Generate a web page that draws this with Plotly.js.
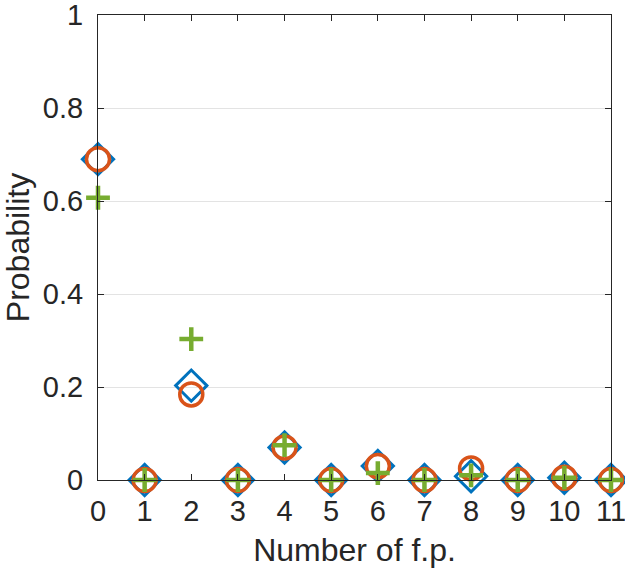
<!DOCTYPE html>
<html>
<head>
<meta charset="utf-8">
<script src="https://cdn.plot.ly/plotly-3.0.1.min.js"></script>
<style>
  body { margin: 0; background: #fff; }
  #plotArea { width: 625px; height: 576px; }
</style>
</head>
<body>
<div id="plotArea"></div>
<script>
// number of false positives on the x axis
const numFP = [0, 1, 2, 3, 4, 5, 6, 7, 8, 9, 10, 11];

// three series
const probDiamond = [0.69, 0, 0.203, 0, 0.07, 0, 0.03, 0, 0.008, 0, 0.005, 0];
const probCircle = [0.69, 0, 0.184, 0, 0.07, 0, 0.03, 0, 0.025, 0, 0.005, 0];
const probPlus = [0.607, 0, 0.303, 0, 0.075, 0, 0.015, 0, 0.01, 0, 0.005, 0];

const yTicks = [0, 0.2, 0.4, 0.6, 0.8, 1];
const yTickText = ['0', '0.2', '0.4', '0.6', '0.8', '1'];

const axisColor = '#262626';
const fontFamily = 'Liberation Sans, Arial, Helvetica, sans-serif';

const data = [{
    x: numFP,
    y: probDiamond,
    type: 'scatter',
    mode: 'markers',
    cliponaxis: false,
    marker: {
        symbol: 'diamond-open',
        size: 24,
        color: '#0072BD',
        line: { color: '#0072BD', width: 3 }
    }
},
{
    x: numFP,
    y: probCircle,
    type: 'scatter',
    mode: 'markers',
    cliponaxis: false,
    marker: {
        symbol: 'circle-open',
        size: 23,
        color: '#D95319',
        line: { color: '#D95319', width: 3.5 }
    }
},
{
    x: numFP,
    y: probPlus,
    type: 'scatter',
    mode: 'markers',
    cliponaxis: false,
    marker: {
        symbol: 'cross-thin-open',
        size: 17,
        color: '#77AC30',
        line: { color: '#77AC30', width: 4.5 }
    }
}];

var layout = {
    width: 625,
    height: 576,
    showlegend: false,
    paper_bgcolor: '#ffffff',
    plot_bgcolor: '#ffffff',
    margin: { l: 98, r: 14, t: 15, b: 96 },
    font: { family: fontFamily, size: 29, color: axisColor },
    xaxis: {
        range: [0, 11],
        tickvals: numFP,
        ticktext: numFP.map(String),
        ticks: 'inside',
        ticklen: 6,
        tickcolor: axisColor,
        showline: true,
        linecolor: axisColor,
        linewidth: 1,
        mirror: 'ticks',
        showgrid: false,
        zeroline: false,
        ticklabeloverflow: 'allow',
        ticklabelstandoff: 5,
        title: { text: 'Number of f.p.', font: { size: 32 }, standoff: 12 }
    },
    yaxis: {
        range: [0, 1],
        tickvals: yTicks,
        ticktext: yTickText,
        ticks: 'inside',
        ticklen: 6,
        tickcolor: axisColor,
        showline: true,
        linecolor: axisColor,
        linewidth: 1,
        mirror: 'ticks',
        showgrid: true,
        gridcolor: '#e3e3e3',
        zeroline: false,
        ticklabeloverflow: 'allow',
        ticklabelstandoff: 8,
        title: { text: 'Probability', font: { size: 32 }, standoff: 8 }
    }
};

Plotly.newPlot('plotArea', data, layout, { displayModeBar: false });
</script>
</body>
</html>
